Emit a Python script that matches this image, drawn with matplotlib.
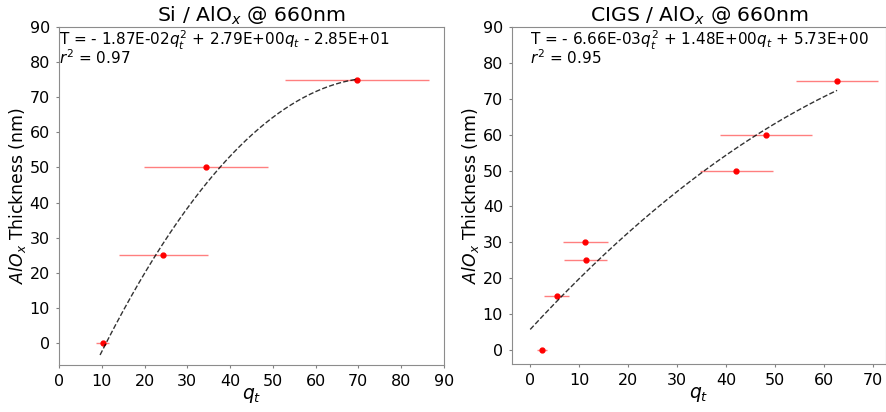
"""Thickness calibration vs q_t for Si and CIGS substrates (AlOx @ 660nm)."""

import matplotlib
matplotlib.use("Agg")
import matplotlib.pyplot as plt
import numpy as np

# Si / AlOx
si_q = [10.2, 24.4, 34.4, 69.7]
si_qerr = [1.5, 10.4, 14.5, 16.8]
si_t = [0, 25, 50, 75]
si_coef = [-1.87e-02, 2.79e00, -2.85e01]
si_r2 = 0.97
si_fit_range = [9.6, 69.7]

# CIGS / AlOx
cigs_q = [2.4, 5.4, 11.3, 11.2, 42.1, 48.1, 62.7]
cigs_qerr = [1.0, 2.6, 4.3, 4.6, 7.5, 9.4, 8.3]
cigs_t = [0, 15, 25, 30, 50, 60, 75]
cigs_coef = [-6.66e-03, 1.48e00, 5.73e00]
cigs_r2 = 0.95
cigs_fit_range = [0.0, 62.7]

PANELS = [
    ("Si", si_q, si_qerr, si_t, si_coef, si_r2, si_fit_range,
     (0, 90), (-6.3, 90), np.arange(0, 91, 10)),
    ("CIGS", cigs_q, cigs_qerr, cigs_t, cigs_coef, cigs_r2, cigs_fit_range,
     (-3.7, 72.7), (-3.9, 90), np.arange(0, 71, 10)),
]

AX_RECTS = [
    [0.0666, 0.114, 0.4344, 0.8205],
    [0.578, 0.1165, 0.422, 0.818],
]


def _fmt(v):
    return f"{abs(v):.2E}"


def _sign(v):
    return "-" if v < 0 else "+"


fig = plt.figure(figsize=(8.86, 4.12), dpi=100)

for rect, (name, q, qerr, t, coef, r2, frange, xlim, ylim, xticks) in zip(AX_RECTS, PANELS):
    ax = fig.add_axes(rect)
    ax.errorbar(q, t, xerr=qerr, fmt="none", ecolor="red", elinewidth=1.0,
                alpha=0.5, zorder=2)
    ax.plot(q, t, "o", color="red", markersize=3.5, zorder=3)

    xs = np.linspace(frange[0], frange[1], 200)
    ax.plot(xs, np.polyval(coef, xs), "--", color="black", lw=1.0, alpha=0.8,
            zorder=4)

    a, b, c = coef
    txt = (f"T = {_sign(a)} {_fmt(a)}$q_t^2$ {_sign(b)} {_fmt(b)}$q_t$ "
           f"{_sign(c)} {_fmt(c)}\n$r^2$ = {r2:.2f}")
    ax.text(0, 89.6, txt, fontsize=11, va="top", ha="left",
            linespacing=0.8)

    ax.set_xlim(*xlim)
    ax.set_ylim(*ylim)
    ax.set_xticks(xticks)
    ax.set_yticks(np.arange(0, 91, 10))
    ax.tick_params(labelsize=11.5, color="0.5", length=2.5, pad=4)
    for sp in ax.spines.values():
        sp.set_color("0.55")
    ax.set_title(f"{name} / AlO$_x$ @ 660nm", fontsize=14.7, pad=3)
    ax.set_xlabel("$q_t$", fontsize=13.5, labelpad=-2)
    ax.set_ylabel("$AlO_x$ Thickness (nm)", fontsize=12.4, labelpad=1)

fig.savefig("out.png", dpi=100)
